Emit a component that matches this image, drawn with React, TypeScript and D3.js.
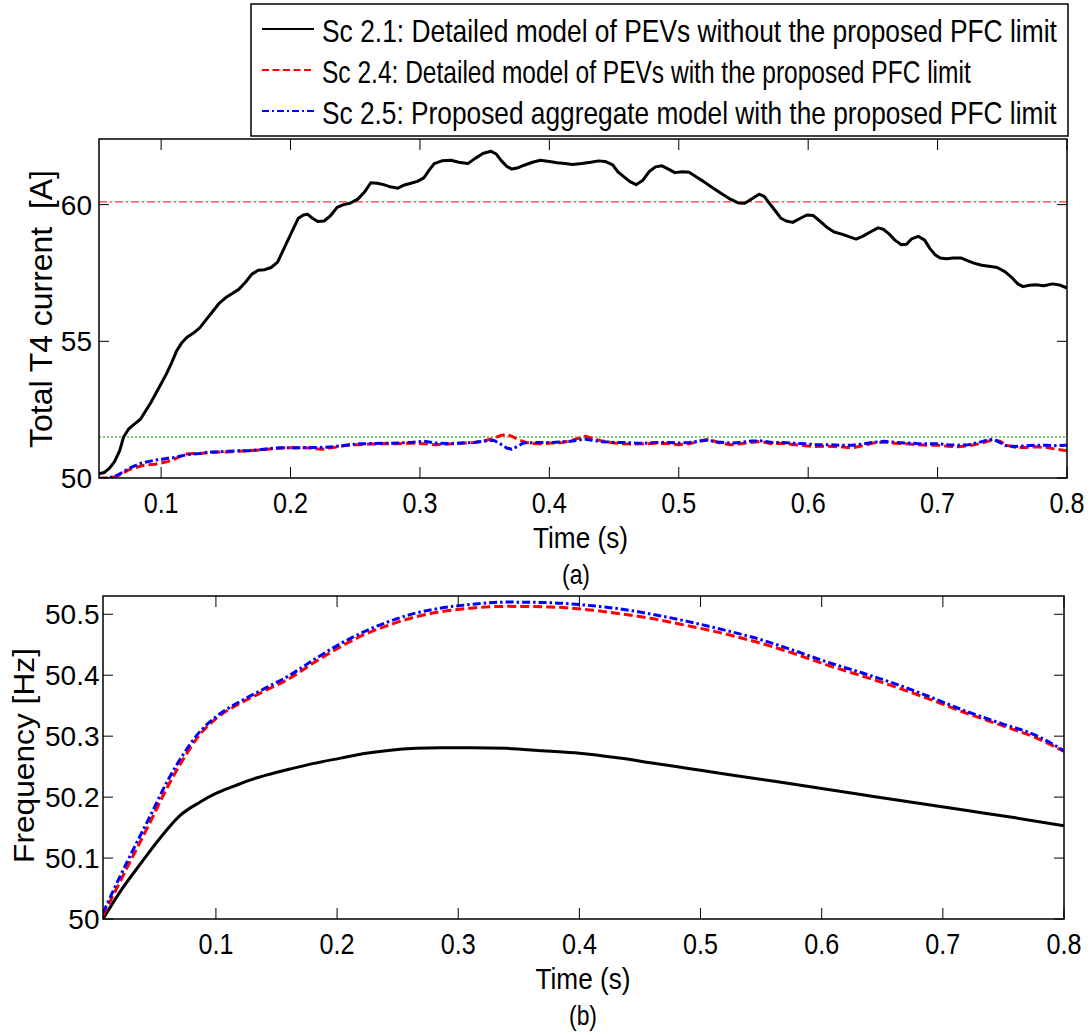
import React, { useLayoutEffect, useRef, useState } from 'react';
import * as d3 from 'd3';

// ---------- DATA ----------
// Top chart (a): Total T4 current [A]
const topSc21T = [0.052,0.056,0.06,0.064,0.068,0.071,0.075,0.08,0.084,0.088,0.092,0.096,0.1,0.104,0.108,0.112,0.116,0.12,0.125,0.13,0.135,0.14,0.145,0.15,0.155,0.16,0.165,0.17,0.175,0.18,0.185,0.19,0.194,0.198,0.202,0.206,0.21,0.213,0.217,0.221,0.226,0.231,0.236,0.241,0.246,0.252,0.257,0.262,0.267,0.272,0.277,0.283,0.288,0.293,0.298,0.303,0.307,0.311,0.317,0.324,0.33,0.337,0.343,0.349,0.355,0.359,0.363,0.367,0.371,0.376,0.381,0.387,0.393,0.4,0.406,0.412,0.418,0.425,0.432,0.438,0.443,0.449,0.453,0.457,0.462,0.467,0.472,0.477,0.482,0.487,0.492,0.497,0.503,0.508,0.514,0.519,0.525,0.532,0.539,0.546,0.551,0.556,0.562,0.566,0.57,0.575,0.579,0.583,0.588,0.594,0.599,0.604,0.609,0.615,0.62,0.626,0.632,0.637,0.642,0.648,0.654,0.658,0.662,0.667,0.672,0.676,0.68,0.685,0.69,0.694,0.698,0.702,0.707,0.712,0.718,0.723,0.728,0.734,0.741,0.746,0.752,0.757,0.762,0.766,0.771,0.776,0.782,0.789,0.795,0.8];
const topSc21V = [50.15,50.2,50.35,50.6,51.0,51.5,51.8,52.0,52.15,52.45,52.75,53.1,53.45,53.8,54.2,54.65,54.95,55.15,55.3,55.5,55.8,56.1,56.4,56.6,56.75,56.9,57.15,57.45,57.6,57.62,57.7,57.9,58.3,58.7,59.1,59.5,59.62,59.65,59.5,59.38,59.4,59.6,59.9,60.0,60.05,60.2,60.45,60.8,60.78,60.73,60.65,60.6,60.72,60.78,60.85,60.98,61.25,61.5,61.6,61.62,61.55,61.5,61.7,61.88,61.95,61.85,61.6,61.4,61.3,61.35,61.45,61.55,61.62,61.58,61.53,61.5,61.47,61.5,61.55,61.6,61.58,61.45,61.2,61.04,60.85,60.73,60.88,61.2,61.38,61.42,61.3,61.17,61.2,61.18,61.0,60.85,60.65,60.43,60.22,60.06,60.05,60.2,60.38,60.3,60.05,59.75,59.5,59.4,59.35,59.5,59.62,59.6,59.4,59.15,59.0,58.92,58.82,58.74,58.84,59.0,59.15,59.1,58.95,58.7,58.53,58.55,58.75,58.84,58.7,58.4,58.17,58.05,58.02,58.05,58.05,57.95,57.86,57.78,57.74,57.7,57.55,57.35,57.1,57.0,57.05,57.07,57.03,57.1,57.05,56.95];

const topSc24T = [0.052,0.058,0.065,0.07,0.075,0.08,0.085,0.09,0.095,0.1,0.105,0.11,0.115,0.12,0.125,0.13,0.137,0.144,0.152,0.16,0.168,0.176,0.184,0.194,0.204,0.214,0.224,0.234,0.243,0.253,0.263,0.273,0.283,0.293,0.303,0.312,0.322,0.332,0.342,0.35,0.357,0.362,0.367,0.372,0.377,0.382,0.39,0.397,0.402,0.41,0.418,0.424,0.428,0.433,0.441,0.45,0.458,0.466,0.474,0.482,0.491,0.5,0.508,0.516,0.523,0.53,0.54,0.548,0.556,0.563,0.572,0.58,0.59,0.598,0.606,0.615,0.625,0.634,0.642,0.65,0.659,0.667,0.676,0.684,0.692,0.7,0.708,0.716,0.724,0.732,0.738,0.743,0.748,0.753,0.76,0.768,0.776,0.784,0.792,0.8];
const topSc24V = [50.0,50.0,50.05,50.15,50.3,50.38,50.45,50.48,50.5,50.55,50.6,50.68,50.8,50.88,50.9,50.9,50.93,50.95,50.95,50.98,51.0,51.02,51.06,51.1,51.12,51.1,51.05,51.12,51.2,51.22,51.24,51.26,51.25,51.28,51.25,51.22,51.24,51.27,51.3,51.36,51.45,51.55,51.6,51.5,51.38,51.3,51.25,51.26,51.28,51.3,51.38,51.48,51.53,51.45,51.35,51.28,51.25,51.24,51.25,51.27,51.26,51.22,51.25,51.35,51.42,51.3,51.22,51.25,51.3,51.34,51.25,51.27,51.22,51.18,51.15,51.16,51.14,51.1,51.18,51.28,51.32,51.27,51.25,51.22,51.2,51.2,51.16,51.14,51.18,51.25,51.33,51.4,51.35,51.2,51.12,51.12,51.14,51.12,51.05,51.0];

const topSc25T = [0.052,0.058,0.065,0.07,0.075,0.08,0.085,0.09,0.095,0.1,0.105,0.11,0.115,0.12,0.125,0.13,0.137,0.144,0.152,0.16,0.168,0.176,0.184,0.194,0.204,0.214,0.224,0.234,0.243,0.253,0.263,0.273,0.283,0.293,0.303,0.312,0.322,0.332,0.342,0.35,0.357,0.362,0.367,0.371,0.375,0.38,0.39,0.397,0.402,0.41,0.418,0.424,0.428,0.433,0.441,0.45,0.458,0.466,0.474,0.482,0.491,0.5,0.508,0.516,0.523,0.53,0.54,0.548,0.556,0.563,0.572,0.58,0.59,0.598,0.606,0.615,0.625,0.634,0.642,0.65,0.659,0.667,0.676,0.684,0.692,0.7,0.708,0.716,0.724,0.732,0.738,0.743,0.748,0.753,0.76,0.768,0.776,0.784,0.792,0.8];
const topSc25V = [49.98,49.98,50.08,50.2,50.35,50.45,50.55,50.6,50.65,50.68,50.72,50.75,50.8,50.85,50.88,50.9,50.95,50.95,50.98,51.0,51.0,51.03,51.08,51.11,51.1,51.12,51.12,51.15,51.2,51.25,51.26,51.27,51.28,51.3,51.35,51.28,51.26,51.28,51.3,51.35,51.38,51.25,51.1,51.05,51.15,51.28,51.3,51.3,51.3,51.32,51.35,51.4,51.42,51.38,51.33,51.3,51.3,51.28,51.27,51.3,51.3,51.28,51.3,51.35,51.38,51.32,51.28,51.3,51.35,51.36,51.3,51.3,51.27,51.25,51.22,51.22,51.2,51.2,51.24,51.3,51.34,51.3,51.28,51.26,51.25,51.25,51.22,51.2,51.22,51.3,51.38,51.42,51.3,51.18,51.15,51.18,51.2,51.2,51.18,51.2];

const topRedLimit = 60.1;
const topGreenLimit = 51.5;

// Bottom chart (b): Frequency [Hz]
const botSc21T = [0.0068,0.021,0.0375,0.054,0.0705,0.087,0.1,0.115,0.128,0.145,0.161,0.18,0.203,0.224,0.244,0.265,0.285,0.31,0.34,0.37,0.4,0.433,0.46,0.49,0.52,0.561,0.6,0.64,0.68,0.72,0.76,0.8];
const botSc21V = [50.0,50.045,50.09,50.133,50.17,50.192,50.206,50.218,50.228,50.238,50.246,50.255,50.264,50.272,50.277,50.28,50.281,50.281,50.28,50.276,50.272,50.264,50.256,50.247,50.238,50.226,50.214,50.202,50.19,50.178,50.166,50.153];

const botSc24T = [0.0068,0.018,0.032,0.046,0.0596,0.073,0.0857,0.1008,0.12,0.14,0.161,0.182,0.203,0.224,0.244,0.265,0.285,0.31,0.34,0.376,0.405,0.433,0.46,0.49,0.52,0.547,0.575,0.604,0.633,0.662,0.69,0.719,0.748,0.776,0.8];
const botSc24V = [50.005,50.05,50.105,50.16,50.215,50.262,50.3,50.33,50.354,50.374,50.395,50.422,50.447,50.468,50.483,50.496,50.504,50.51,50.513,50.512,50.508,50.501,50.493,50.481,50.468,50.454,50.437,50.417,50.399,50.38,50.36,50.338,50.318,50.298,50.275];

const botSc25T = [0.0068,0.018,0.032,0.046,0.0596,0.073,0.0857,0.1008,0.12,0.14,0.161,0.182,0.203,0.224,0.244,0.265,0.285,0.31,0.34,0.376,0.405,0.433,0.46,0.49,0.52,0.547,0.575,0.604,0.633,0.662,0.69,0.719,0.748,0.776,0.8];
const botSc25V = [50.01,50.058,50.115,50.17,50.225,50.27,50.305,50.333,50.357,50.378,50.4,50.427,50.452,50.473,50.489,50.502,50.51,50.516,50.52,50.519,50.515,50.509,50.5,50.488,50.474,50.46,50.442,50.422,50.404,50.385,50.364,50.341,50.321,50.302,50.276];

const xTickValues = [0.1, 0.2, 0.3, 0.4, 0.5, 0.6, 0.7, 0.8];
const topYTickValues = [50, 55, 60];
const botYTickValues = [50, 50.1, 50.2, 50.3, 50.4, 50.5];

const legendLabels = [
  'Sc 2.1: Detailed model of PEVs without the proposed PFC limit',
  'Sc 2.4: Detailed model of PEVs with the proposed PFC limit',
  'Sc 2.5: Proposed aggregate model with the proposed PFC limit',
];
const legendTextLengths = [735, 649, 735];

const FONT = '"Liberation Sans", Arial, Helvetica, sans-serif';

type Box = { left: number; right: number; top: number; bottom: number };

const zip = (t: number[], v: number[]) => t.map((x, i) => [x, v[i]] as [number, number]);

const S21 = { stroke: '#000', width: 3, dash: undefined as string | undefined };
const S24 = { stroke: '#ff0000', width: 3, dash: '9,4' };
const S25 = { stroke: '#0000ff', width: 3, dash: '8,3,2.5,3' };

// Text horizontally squeezed to a target width (measured, then scaled)
function FitText({ x, y, width, fontSize, anchor = 'start', rotate = 0, children }: any) {
  const ref = useRef<SVGTextElement>(null);
  const [sx, setSx] = useState(1);
  useLayoutEffect(() => {
    if (ref.current) {
      const len = ref.current.getComputedTextLength();
      if (len > 0) setSx(width / len);
    }
  }, [width, children]);
  return (
    <text
      ref={ref}
      transform={`translate(${x},${y}) rotate(${rotate}) scale(${sx},1)`}
      x={0}
      y={0}
      fontSize={fontSize}
      textAnchor={anchor}
      fontFamily={FONT}
      style={{ whiteSpace: 'pre' }}
    >
      {children}
    </text>
  );
}

function Axes({ box, x, y, xt, yt, yFmt, yLabelGap }: any) {
  return (
    <g>
      {xt.map((t: number) => (
        <g key={'xt' + t}>
          <line x1={x(t)} x2={x(t)} y1={box.bottom} y2={box.bottom - 11} stroke="#000" strokeWidth={1} />
          <line x1={x(t)} x2={x(t)} y1={box.top} y2={box.top + 11} stroke="#000" strokeWidth={1} />
          <FitText x={x(t)} y={box.bottom + 35} width={35} fontSize={29} anchor="middle">
            {d3.format('.1f')(t)}
          </FitText>
        </g>
      ))}
      {yt.map((v: number) => (
        <g key={'yt' + v}>
          <line x1={box.left} x2={box.left + 10} y1={y(v)} y2={y(v)} stroke="#000" strokeWidth={1} />
          <line x1={box.right} x2={box.right - 10} y1={y(v)} y2={y(v)} stroke="#000" strokeWidth={1} />
          <text x={box.left - yLabelGap} y={y(v) + 10} fontSize={28} textAnchor="end" fontFamily={FONT}>
            {yFmt(v)}
          </text>
        </g>
      ))}
      <rect x={box.left} y={box.top} width={box.right - box.left} height={box.bottom - box.top} fill="none" stroke="#000" strokeWidth={1.5} />
    </g>
  );
}

export default function App() {
  const W = 1092, H = 1035;
  const topBox: Box = { left: 99, right: 1067, top: 139, bottom: 478 };
  const botBox: Box = { left: 103, right: 1064, top: 596, bottom: 919 };

  const xTop = d3.scaleLinear().domain([0.052, 0.8]).range([topBox.left, topBox.right]);
  const yTop = d3.scaleLinear().domain([50, 62.4]).range([topBox.bottom, topBox.top]);
  const xBot = d3.scaleLinear().domain([0.0068, 0.8]).range([botBox.left, botBox.right]);
  const yBot = d3.scaleLinear().domain([50, 50.53]).range([botBox.bottom, botBox.top]);

  const lineTop = d3.line<[number, number]>().x(d => xTop(d[0])).y(d => yTop(d[1]));
  const lineBot = d3.line<[number, number]>().x(d => xBot(d[0])).y(d => yBot(d[1])).curve(d3.curveMonotoneX);

  const topSeries = [
    { d: zip(topSc21T, topSc21V), s: S21 },
    { d: zip(topSc24T, topSc24V), s: S24 },
    { d: zip(topSc25T, topSc25V), s: S25 },
  ];
  const botSeries = [
    { d: zip(botSc21T, botSc21V), s: S21 },
    { d: zip(botSc24T, botSc24V), s: S24 },
    { d: zip(botSc25T, botSc25V), s: S25 },
  ];

  const legendRowsY = [29, 70, 111];
  const legendStyles = [
    { stroke: '#000', dash: undefined as string | undefined },
    { stroke: '#ff0000', dash: '7,3.5' },
    { stroke: '#0000ff', dash: '7,3,2,3' },
  ];

  return (
    <svg width={W} height={H} style={{ position: 'absolute', left: 0, top: 0, background: '#fff' }} fontFamily={FONT}>
      <defs>
        <clipPath id="clipTop">
          <rect x={topBox.left} y={topBox.top} width={topBox.right - topBox.left} height={topBox.bottom - topBox.top} />
        </clipPath>
        <clipPath id="clipBot">
          <rect x={botBox.left} y={botBox.top} width={botBox.right - botBox.left} height={botBox.bottom - botBox.top} />
        </clipPath>
      </defs>
      <rect x={0} y={0} width={W} height={H} fill="#fff" />

      {/* Top chart */}
      <g clipPath="url(#clipTop)">
        <line x1={topBox.left} x2={topBox.right} y1={yTop(topRedLimit)} y2={yTop(topRedLimit)} stroke="#ff3030" strokeWidth={1.2} strokeDasharray="8,3,2,3" />
        <line x1={topBox.left} x2={topBox.right} y1={yTop(topGreenLimit)} y2={yTop(topGreenLimit)} stroke="#009900" strokeWidth={1.2} strokeDasharray="2,2" />
        {topSeries.map((ser, i) => (
          <path key={i} d={lineTop(ser.d) || ''} fill="none" stroke={ser.s.stroke} strokeWidth={ser.s.width} strokeDasharray={ser.s.dash} strokeLinejoin="round" />
        ))}
      </g>
      <Axes box={topBox} x={xTop} y={yTop} xt={xTickValues} yt={topYTickValues} yFmt={(v: number) => String(v)} yLabelGap={7} />
      <FitText x={580.5} y={548} width={95} fontSize={29} anchor="middle">Time (s)</FitText>
      <FitText x={576} y={584} width={28} fontSize={27} anchor="middle">(a)</FitText>
      <FitText x={52} y={309} width={278} fontSize={32} anchor="middle" rotate={-90}>Total T4 current  [A]</FitText>

      {/* Legend */}
      <g>
        <rect x={251} y={4} width={1068 - 251} height={136 - 4} fill="#fff" stroke="#000" strokeWidth={1.5} />
        {legendLabels.map((lab, i) => (
          <g key={lab}>
            <line x1={262} x2={314} y1={legendRowsY[i]} y2={legendRowsY[i]} stroke={legendStyles[i].stroke} strokeWidth={2} strokeDasharray={legendStyles[i].dash} />
            <FitText x={322} y={legendRowsY[i] + 12.5} width={legendTextLengths[i]} fontSize={32}>{lab}</FitText>
          </g>
        ))}
      </g>

      {/* Bottom chart */}
      <g clipPath="url(#clipBot)">
        {botSeries.map((ser, i) => (
          <path key={i} d={lineBot(ser.d) || ''} fill="none" stroke={ser.s.stroke} strokeWidth={ser.s.width} strokeDasharray={ser.s.dash} strokeLinejoin="round" />
        ))}
      </g>
      <Axes box={botBox} x={xBot} y={yBot} xt={xTickValues} yt={botYTickValues} yFmt={(v: number) => (v === 50 ? '50' : d3.format('.1f')(v))} yLabelGap={3.5} />
      <FitText x={583} y={989} width={95} fontSize={29} anchor="middle">Time (s)</FitText>
      <FitText x={583} y={1025} width={28} fontSize={27} anchor="middle">(b)</FitText>
      <FitText x={34} y={755.5} width={215} fontSize={30} anchor="middle" rotate={-90}>Frequency [Hz]</FitText>
    </svg>
  );
}
